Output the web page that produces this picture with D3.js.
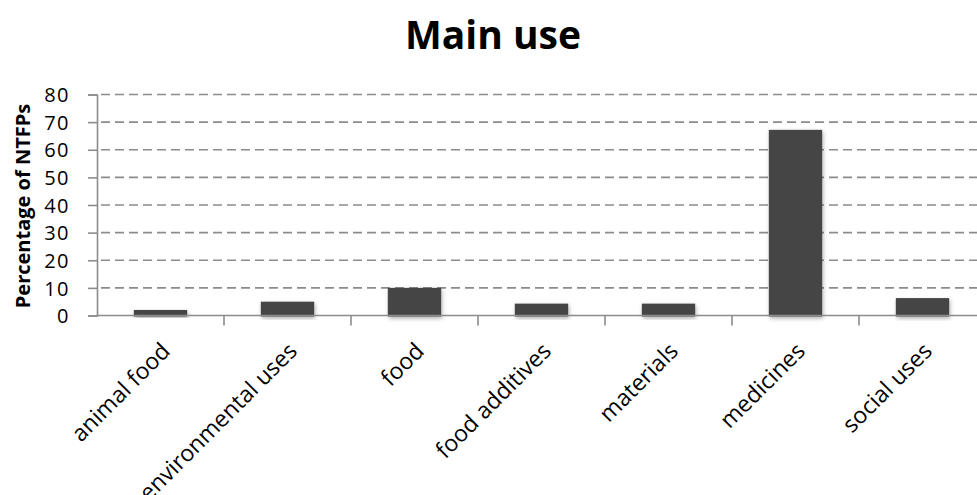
<!DOCTYPE html>
<html lang="en">
<head>
    <meta charset="UTF-8">
    <title>Main use</title>
    <script src="https://d3js.org/d3.v7.min.js"></script>
    <style>
        body {
            margin: 0;
            background-color: white;
        }
        .chart {
            font-family: "Open Sans", sans-serif;
            display: block;
        }
    </style>
</head>
<body>

<svg class="chart" width="977" height="495"></svg>
<script>
    const categories = ["animal food", "environmental uses", "food", "food additives", "materials", "medicines", "social uses"];
    const values = [2.0, 5.0, 10.0, 4.3, 4.3, 67.2, 6.3];
    const yTicks = [0, 10, 20, 30, 40, 50, 60, 70, 80];

    const width = 977;
    const height = 495;
    const margin = {left: 97, right: -9, top: 94.5, bottom: 179.5};

    const svg = d3.select("svg");

    const defs = svg.append("defs");
    const shadow = defs.append("filter")
        .attr("id", "shadow")
        .attr("x", "-20%").attr("y", "-20%")
        .attr("width", "140%").attr("height", "140%");
    shadow.append("feDropShadow")
        .attr("dx", 1).attr("dy", 2)
        .attr("stdDeviation", 2)
        .attr("flood-color", "#000")
        .attr("flood-opacity", 0.3);

    const x = d3.scaleBand()
        .domain(categories)
        .range([margin.left, width - margin.right])
        .padding(0);

    const y = d3.scaleLinear()
        .domain([0, 80])
        .range([height - margin.bottom, margin.top]);

    // title
    svg.append("text")
        .attr("x", 493)
        .attr("y", 49)
        .attr("text-anchor", "middle")
        .style("font-size", "39px")
        .style("font-weight", "bold")
        .text("Main use");

    // dashed gridlines
    svg.append("g")
        .selectAll("line")
        .data(yTicks.slice(1))
        .join("line")
        .attr("x1", margin.left)
        .attr("x2", width)
        .attr("y1", d => y(d))
        .attr("y2", d => y(d))
        .attr("stroke", "#8c8c8c")
        .attr("stroke-width", 1.6)
        .attr("stroke-dasharray", "9,5")
        .attr("stroke-dashoffset", -4);

    // y axis
    const yAxis = svg.append("g")
        .attr("transform", `translate(${margin.left},0)`)
        .call(d3.axisLeft(y).tickValues(yTicks).tickSize(9).tickPadding(18));
    yAxis.select(".domain").attr("stroke", "#8c8c8c").attr("stroke-width", 1.6);
    yAxis.selectAll(".tick line").attr("stroke", "#8c8c8c").attr("stroke-width", 1.6);
    yAxis.selectAll(".tick text")
        .attr("fill", "#000")
        .attr("dy", "0.36em")
        .style("font-family", "Open Sans, sans-serif")
        .style("font-size", "20px")
        .style("letter-spacing", "1.5px");

    svg.append("text")
        .attr("transform", `translate(30,${(y(0) + y(80)) / 2 + 1}) rotate(-90)`)
        .attr("text-anchor", "middle")
        .style("font-size", "20px")
        .style("font-weight", "bold")
        .text("Percentage of NTFPs");

    // bars
    const barW = x.bandwidth() * 0.42;
    svg.append("g")
        .selectAll("rect")
        .data(values)
        .join("rect")
        .attr("x", (d, i) => x(categories[i]) + (x.bandwidth() - barW) / 2)
        .attr("y", d => y(d))
        .attr("width", barW)
        .attr("height", d => y(0) - y(d) + 1)
        .attr("fill", "#444444")
        .attr("filter", "url(#shadow)");

    // x axis
    const xAxis = svg.append("g")
        .attr("transform", `translate(0,${y(0)})`)
        .call(d3.axisBottom(x).tickSize(0).tickPadding(0));
    xAxis.select(".domain").remove();
    svg.append("line")
        .attr("x1", margin.left).attr("x2", width)
        .attr("y1", y(0)).attr("y2", y(0))
        .attr("stroke", "#8c8c8c")
        .attr("stroke-width", 1.6);
    svg.append("g")
        .selectAll("line")
        .data(categories.slice(1))
        .join("line")
        .attr("x1", d => x(d)).attr("x2", d => x(d))
        .attr("y1", y(0)).attr("y2", y(0) + 10)
        .attr("stroke", "#8c8c8c")
        .attr("stroke-width", 1.6);

    xAxis.selectAll(".tick text")
        .attr("fill", "#000")
        .style("font-family", "Open Sans, sans-serif")
        .style("font-size", "23px")
        .attr("text-anchor", "end")
        .attr("dy", 0)
        .attr("transform", "translate(11,37) rotate(-45)");
</script>
</body>
</html>
